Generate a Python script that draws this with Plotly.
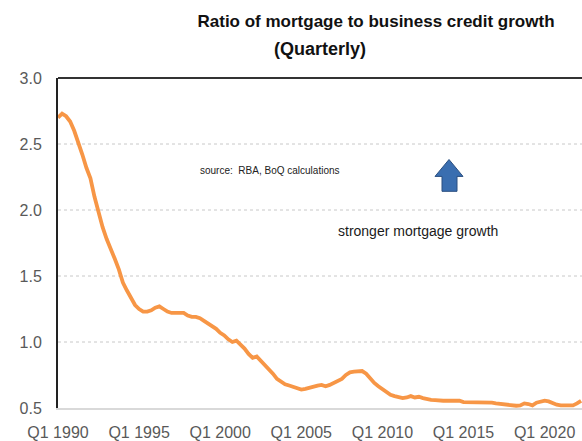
import plotly.graph_objects as go

# quarterly ratio, Q1 1990 onwards
ratio = [
    2.70, 2.73, 2.71, 2.67, 2.60, 2.52, 2.42, 2.32, 2.24, 2.10,
    1.98, 1.87, 1.78, 1.71, 1.63, 1.55, 1.45, 1.39, 1.33, 1.28,
    1.25, 1.23, 1.23, 1.24, 1.26, 1.27, 1.25, 1.23, 1.22, 1.22,
    1.22, 1.22, 1.20, 1.19, 1.19, 1.18, 1.16, 1.14, 1.12, 1.10,
    1.07, 1.05, 1.02, 1.00, 1.01, 0.98, 0.95, 0.91, 0.88, 0.89,
    0.86, 0.83, 0.80, 0.76, 0.72, 0.70, 0.68, 0.67, 0.66, 0.645,
    0.64, 0.645, 0.655, 0.66, 0.67, 0.675, 0.665, 0.675, 0.69, 0.70,
    0.72, 0.75, 0.77, 0.775, 0.775, 0.78, 0.76, 0.72, 0.69, 0.665,
    0.645, 0.625, 0.60, 0.59, 0.58, 0.575, 0.58, 0.59, 0.58, 0.585,
    0.575, 0.565, 0.562, 0.56, 0.555, 0.555, 0.555, 0.555, 0.555, 0.555,
    0.545, 0.545, 0.545, 0.545, 0.545, 0.545, 0.545, 0.54, 0.535, 0.53,
    0.53, 0.52, 0.517, 0.517, 0.52, 0.535, 0.53, 0.52, 0.54, 0.55,
    0.555, 0.55, 0.535, 0.525, 0.52, 0.52, 0.52, 0.52, 0.535, 0.555,
]
quarters = [f"Q{i % 4 + 1} {1990 + i // 4}" for i in range(len(ratio))]
tick_labels = ["Q1 1990", "Q1 1995", "Q1 2000", "Q1 2005", "Q1 2010", "Q1 2015", "Q1 2020"]
y_ticks = [0.5, 1.0, 1.5, 2.0, 2.5, 3.0]

W, H = 582, 441
L, T, B = 58, 78, 31


def px(x, y):
    # figure pixel -> paper coords of the plot area
    return (x - L) / (W - L), (H - B - y) / (H - B - T)


fig = go.Figure()
fig.add_trace(go.Scatter(
    x=quarters, y=ratio, mode="lines",
    line=dict(color="#f79646", width=3.8), showlegend=False,
))

# dotted gridlines
for v in y_ticks[1:-1]:
    fig.add_hline(y=v, line=dict(color="#c8c8c8", width=1, dash="dot"), layer="below")

# top border
fig.add_shape(type="line", xref="paper", yref="paper", x0=0, x1=1, y0=1, y1=1,
              line=dict(color="#333333", width=2))

# block arrow
pts = [(449, 160), (463, 177), (457, 177), (457, 192), (442, 192), (442, 177), (435, 177)]
path = "M " + " L ".join(f"{a},{b}" for a, b in (px(*p) for p in pts)) + " Z"
fig.add_shape(type="path", xref="paper", yref="paper", path=path,
              fillcolor="#3a6eb0", line=dict(color="#2a4f80", width=1))

sx, sy = px(270, 171)
fig.add_annotation(x=sx, y=sy, xref="paper", yref="paper", text="source:  RBA, BoQ calculations",
                   showarrow=False, xanchor="center", yanchor="middle",
                   font=dict(size=10, color="#222222"))
gx, gy = px(418, 232)
fig.add_annotation(x=gx, y=gy, xref="paper", yref="paper", text="stronger mortgage growth",
                   showarrow=False, xanchor="center", yanchor="middle",
                   font=dict(size=14, color="#1a1a1a"))
qx, qy = px(320, 49)
fig.add_annotation(x=qx, y=qy, xref="paper", yref="paper", text="<b>(Quarterly)</b>",
                   showarrow=False, xanchor="center", yanchor="middle",
                   font=dict(size=18, color="#111111"))

fig.update_layout(
    width=W, height=H,
    paper_bgcolor="white", plot_bgcolor="white",
    margin=dict(l=L, r=0, t=T, b=B),
    font=dict(family="Liberation Sans, Arial, sans-serif"),
    title=dict(text="<b>Ratio of mortgage to business credit growth</b>",
               xref="container", x=376 / W, xanchor="center",
               yref="container", y=1 - 21 / H, yanchor="middle",
               font=dict(size=17, color="#111111")),
    xaxis=dict(
        type="category", range=[0, (W - L) / 4.055],
        tickvals=tick_labels, ticktext=tick_labels,
        showgrid=False, zeroline=False,
        showline=True, linecolor="#d9d9d9", linewidth=2,
        ticks="", ticklabelstandoff=9,
        tickfont=dict(size=16, color="#595959"),
    ),
    yaxis=dict(
        range=[0.5, 3.0], tickvals=y_ticks, tickformat=".1f",
        showgrid=False, zeroline=False,
        showline=True, linecolor="#222222", linewidth=2,
        ticks="", ticklabelstandoff=11,
        tickfont=dict(size=16, color="#595959"),
    ),
)

fig.write_html("out.html", config={"displayModeBar": False},
               post_script="document.body.style.margin='0';")
